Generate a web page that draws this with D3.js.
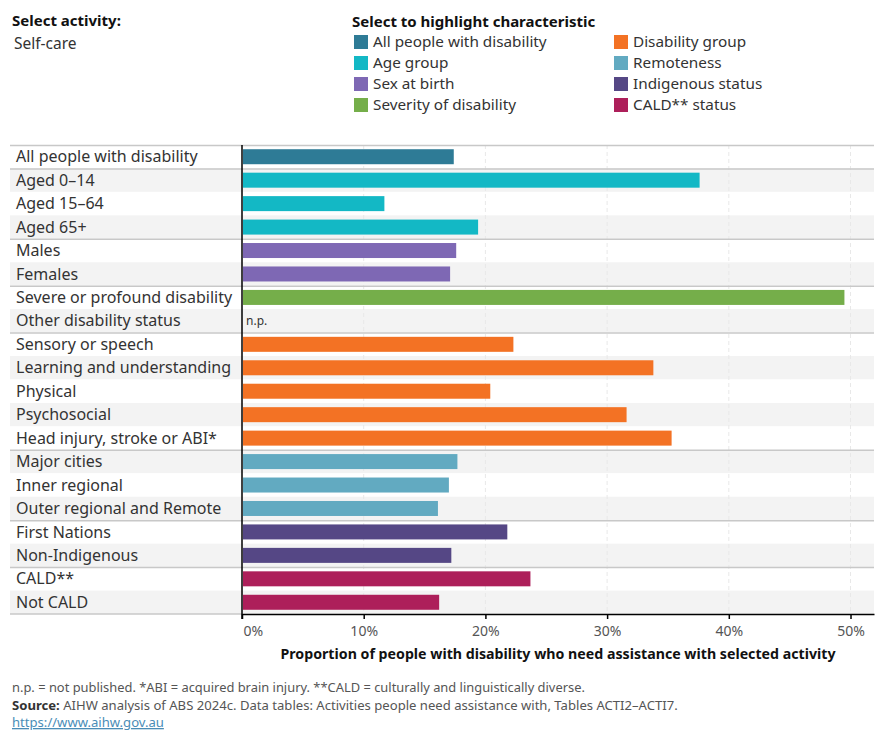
<!DOCTYPE html>
<html>
<head>
<meta charset="utf-8">
<script src="https://cdn.jsdelivr.net/npm/d3@7"></script>
<style>
  body { margin: 0; background: #fff; }
  svg text { font-family: "Noto Sans", "Open Sans", sans-serif; }
</style>
</head>
<body>
<div id="viz"></div>
<script>
// chart values (percent), null = not published
var categories = ["All people with disability", "Aged 0\u201314", "Aged 15\u201364", "Aged 65+",
  "Males", "Females", "Severe or profound disability", "Other disability status",
  "Sensory or speech", "Learning and understanding", "Physical", "Psychosocial",
  "Head injury, stroke or ABI*", "Major cities", "Inner regional", "Outer regional and Remote",
  "First Nations", "Non-Indigenous", "CALD**", "Not CALD"];
var values = [17.4, 37.6, 11.7, 19.4, 17.6, 17.1, 49.5, null, 22.3, 33.8, 20.4, 31.6, 35.3,
  17.7, 17.0, 16.1, 21.8, 17.2, 23.7, 16.2];
var groupOf = ["All people with disability", "Age group", "Age group", "Age group",
  "Sex at birth", "Sex at birth", "Severity of disability", "Severity of disability",
  "Disability group", "Disability group", "Disability group", "Disability group", "Disability group",
  "Remoteness", "Remoteness", "Remoteness", "Indigenous status", "Indigenous status",
  "CALD** status", "CALD** status"];
var groups = ["All people with disability", "Age group", "Sex at birth", "Severity of disability",
  "Disability group", "Remoteness", "Indigenous status", "CALD** status"];
var groupColours = ["#2e7b96", "#13b8c5", "#7e68b4", "#75ae4a", "#f37224", "#62aac1", "#554785", "#ad1f5a"];
var xTicks = [0, 10, 20, 30, 40, 50];

(function () {
  var width = 890, height = 750;
  var plotL = 242, plotR = 874, plotT = 145, plotB = 614, rowsL = 10;

  var svg = d3.select("#viz").append("svg")
    .attr("width", width).attr("height", height);

  // the scales
  var x = d3.scaleLinear().domain([0, 51.93]).range([plotL, plotR]);
  var y = d3.scaleBand().domain(categories).range([plotT, plotB]);
  var colour = d3.scaleOrdinal().domain(groups).range(groupColours);

  // header on the left
  svg.append("text").attr("x", 12).attr("y", 26)
    .style("font-size", "15px").style("font-weight", "bold").attr("fill", "#111")
    .text("Select activity:");
  svg.append("text").attr("x", 14).attr("y", 49)
    .style("font-size", "15.5px").attr("fill", "#333")
    .text("Self-care");

  // legend
  svg.append("text").attr("x", 352).attr("y", 27)
    .style("font-size", "15px").style("font-weight", "bold").attr("fill", "#111")
    .text("Select to highlight characteristic");
  var leg = svg.append("g").selectAll("g").data(groups).enter().append("g")
    .attr("transform", function (d, i) {
      return "translate(" + (i < 4 ? 354 : 614) + "," + (35 + (i % 4) * 21) + ")";
    });
  leg.append("rect").attr("width", 14).attr("height", 14).attr("fill", function (d) { return colour(d); });
  leg.append("text").attr("x", 19).attr("y", 12)
    .style("font-size", "15.3px").attr("fill", "#333")
    .text(function (d) { return d; });

  // row background stripes
  svg.append("g").selectAll("rect").data(categories).enter().append("rect")
    .attr("x", rowsL).attr("y", function (d) { return y(d); })
    .attr("width", plotR - rowsL).attr("height", y.bandwidth())
    .attr("fill", function (d, i) { return i % 2 ? "#f3f3f3" : "#fff"; });

  // dashed gridlines
  svg.append("g").selectAll("line").data(xTicks.slice(1)).enter().append("line")
    .attr("x1", function (d) { return x(d); }).attr("x2", function (d) { return x(d); })
    .attr("y1", plotT).attr("y2", plotB)
    .attr("stroke", "#e8e8e8").attr("stroke-dasharray", "4,3");

  // separators between the groups
  var seps = [categories[0]];
  for (var i = 1; i < categories.length; i++) {
    if (groupOf[i] !== groupOf[i - 1]) seps.push(categories[i]);
  }
  svg.append("g").selectAll("line").data(seps).enter().append("line")
    .attr("x1", rowsL).attr("x2", plotR)
    .attr("y1", function (d) { return y(d) + 0.5; }).attr("y2", function (d) { return y(d) + 0.5; })
    .attr("stroke", "#c8c8c8").attr("stroke-width", 1.5);
  svg.append("line").attr("x1", rowsL).attr("x2", plotL)
    .attr("y1", plotB).attr("y2", plotB)
    .attr("stroke", "#c8c8c8").attr("stroke-width", 1.5);

  // row labels
  svg.append("g").selectAll("text").data(categories).enter().append("text")
    .attr("x", 16).attr("y", function (d) { return y(d) + y.bandwidth() / 2; })
    .attr("dy", "0.35em")
    .style("font-size", "16px").attr("fill", "#333")
    .text(function (d) { return d; });

  // bars
  var barH = 15;
  var rows = categories.map(function (c, i) { return { cat: c, value: values[i], group: groupOf[i] }; });
  svg.append("g").selectAll("rect").data(rows.filter(function (d) { return d.value !== null; }))
    .enter().append("rect")
    .attr("x", x(0) + 1)
    .attr("y", function (d) { return y(d.cat) + (y.bandwidth() - barH) / 2; })
    .attr("width", function (d) { return x(d.value) - x(0) - 1; })
    .attr("height", barH)
    .attr("fill", function (d) { return colour(d.group); });

  // n.p. marker
  svg.append("g").selectAll("text").data(rows.filter(function (d) { return d.value === null; }))
    .enter().append("text")
    .attr("x", x(0) + 4).attr("y", function (d) { return y(d.cat) + y.bandwidth() / 2; })
    .attr("dy", "0.35em")
    .style("font-size", "12px").attr("fill", "#333")
    .text("n.p.");

  // axes
  var xAxis = svg.append("g").attr("transform", "translate(0," + plotB + ")")
    .call(d3.axisBottom(x).tickValues(xTicks).tickFormat(function (d) { return d + "%"; })
      .tickSize(5).tickSizeOuter(0));
  xAxis.select(".domain").attr("stroke", "#000").attr("stroke-width", 1.5);
  xAxis.selectAll(".tick line").attr("stroke", "#000").attr("stroke-width", 1.5);
  xAxis.selectAll(".tick text")
    .style("font-size", "14px").attr("fill", "#555").attr("y", 12)
    .attr("text-anchor", function (d) { return d === 0 ? "start" : "middle"; })
    .attr("dx", function (d) { return d === 0 ? 1 : 0; });

  svg.append("line").attr("x1", plotL).attr("x2", plotL)
    .attr("y1", plotT).attr("y2", plotB + 5)
    .attr("stroke", "#000").attr("stroke-width", 1.5);

  svg.append("text").attr("x", 558).attr("y", 659)
    .attr("text-anchor", "middle")
    .style("font-size", "14.2px").style("font-weight", "bold").attr("fill", "#111")
    .text("Proportion of people with disability who need assistance with selected activity");

  // footnotes
  svg.append("text").attr("x", 12).attr("y", 692)
    .style("font-size", "12.9px").attr("fill", "#555")
    .text("n.p. = not published. *ABI = acquired brain injury. **CALD = culturally and linguistically diverse.");
  var src = svg.append("text").attr("x", 12).attr("y", 710)
    .style("font-size", "13.1px").attr("fill", "#555");
  src.append("tspan").style("font-weight", "bold").attr("fill", "#333").text("Source:");
  src.append("tspan").text(" AIHW analysis of ABS 2024c. Data tables: Activities people need assistance with, Tables ACTI2\u2013ACTI7.");
  svg.append("text").attr("x", 12).attr("y", 727)
    .style("font-size", "13.1px").attr("fill", "#4a8db7")
    .style("text-decoration", "underline")
    .text("https://www.aihw.gov.au");
})();
</script>
</body>
</html>
